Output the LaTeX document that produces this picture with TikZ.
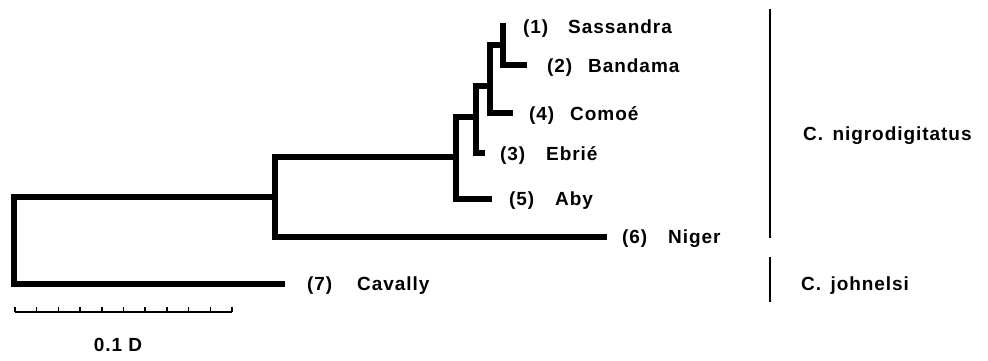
\documentclass[tikz,border=0pt]{standalone}
\usepackage{fontspec}
\usetikzlibrary{calc}
\newfontfamily\labfont{Liberation Sans}[LetterSpace=5]
\tikzset{
  x=1pt, y=-1pt,
  branch/.style={line width=5.2pt, line join=miter},
  groupbar/.style={line width=2pt},
  scalebar/.style={line width=1.6pt},
  lab/.style={anchor=base west, inner sep=0pt, font=\labfont\bfseries\fontsize{19}{22}\selectfont},
  clab/.style={anchor=center, inner sep=0pt, font=\labfont\bfseries\fontsize{19}{22}\selectfont},
}
\begin{document}
\begin{tikzpicture}
\useasboundingbox (0,0) rectangle (988,360);
% internal nodes (x = node position, y = where its parent edge attaches)
\coordinate (a) at (503,45);
\coordinate (b) at (490,86);
\coordinate (c) at (476,117);
\coordinate (d) at (456,157);
\coordinate (e) at (275,197);
\coordinate (root) at (14,240);
% leaf ends
\coordinate (l1) at (503,23);
\coordinate (l2) at (527,65);
\coordinate (l4) at (513,113);
\coordinate (l3) at (485,153);
\coordinate (l5) at (492,199);
\coordinate (l6) at (607,237);
\coordinate (l7) at (285,284);
% tree
\draw[branch] (l1) |- (l2);
\draw[branch] (a) -| (b) |- (l4);
\draw[branch] (b) -| (c) |- (l3);
\draw[branch] (c) -| (d) |- (l5);
\draw[branch] (d) -| (e) |- (l6);
\draw[branch] (e) -| (root) |- (l7);
% leaf labels
\node[lab] (n1) at (523,33) {(1)};
\node[lab] (t1) at (568,33) {Sassandra};
\node[lab] (n2) at (547,72) {(2)};
\node[lab] (t2) at (588,72) {Bandama};
\node[lab] (n4) at (529,120) {(4)};
\node[lab] (t4) at (570,120) {Comoé};
\node[lab] (n3) at (500,160) {(3)};
\node[lab] (t3) at (546,160) {Ebrié};
\node[lab] (n5) at (509,205) {(5)};
\node[lab] (t5) at (555,205) {Aby};
\node[lab] (n6) at (622,243) {(6)};
\node[lab] (t6) at (668,243) {Niger};
\node[lab] (n7) at (307,290) {(7)};
\node[lab] (t7) at (357,290) {Cavally};
% group bars
\coordinate (g1a) at (770,9);
\coordinate (g1b) at (770,238);
\coordinate (g2a) at (770,257);
\coordinate (g2b) at (770,302);
\draw[groupbar] (g1a) -- (g1b);
\draw[groupbar] (g2a) -- (g2b);
\node[lab] (sp1) at (803,140) {C.\ \,nigrodigitatus};
\node[lab] (sp2) at (801,290) {C.\ \,johnelsi};
% scale bar
\coordinate (s0) at (15,312);
\coordinate (s1) at (232,312);
\draw[scalebar] (s0) -- (s1);
\foreach \i in {0,...,10} {
  \draw[scalebar] ($(s0)!\i/10!(s1)$) -- ++(0,-5);
}
\node[clab] (scl) at (118,345) {0.1 D};
\end{tikzpicture}
\end{document}
